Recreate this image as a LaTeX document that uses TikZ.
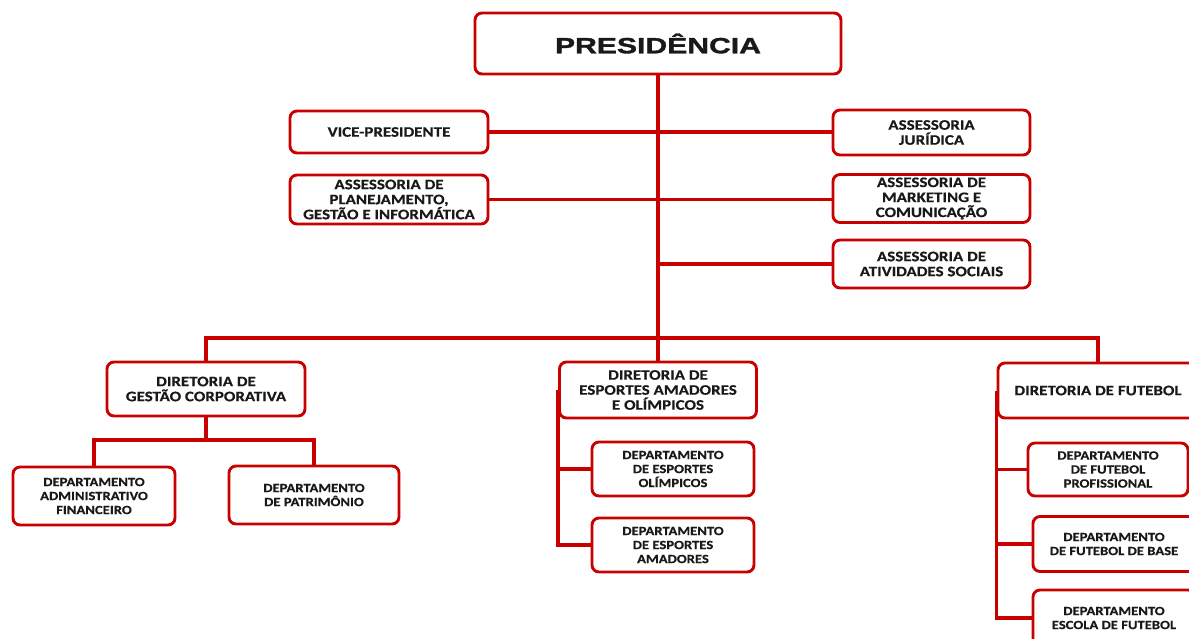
\documentclass[tikz,border=0pt]{standalone}
\usepackage{fontspec}
\setmainfont{Carlito}
\newfontfamily\boxfont[FakeStretch=1.17,FakeBold=0.5]{Carlito}
\newfontfamily\presfont[FakeStretch=1.37,FakeBold=1.5]{Liberation Sans}
\definecolor{orgred}{RGB}{200,0,0}
\definecolor{txt}{RGB}{25,25,25}
\begin{document}
\begin{tikzpicture}[x=1pt,y=-1pt,
  box/.style={draw=orgred, line width=2.9pt, rounded corners=7pt, fill=white, align=center, text=txt, inner sep=0pt, anchor=center},
  big/.style={box, font=\boxfont\bfseries\fontsize{14.5}{15}\selectfont},
  small/.style={box, font=\boxfont\bfseries\fontsize{12.5}{14}\selectfont},
  link/.style={draw=orgred, line width=3.4pt}]
\useasboundingbox[fill=white] (0,0) rectangle (1189,638);

\node[box, minimum width=366pt, minimum height=61pt, font=\presfont\bfseries\fontsize{22}{24}\selectfont] (pres) at (658,43.5) {PRESIDÊNCIA};
\node[big, minimum width=198pt, minimum height=42pt] (vp) at (389,132) {VICE-PRESIDENTE};
\node[big, minimum width=197pt, minimum height=45pt] (jur) at (931.5,132.5) {ASSESSORIA\\JURÍDICA};
\node[big, minimum width=198pt, minimum height=49pt] (plan) at (389,199.5) {ASSESSORIA DE\\PLANEJAMENTO,\\GESTÃO E INFORMÁTICA};
\node[big, minimum width=197pt, minimum height=48pt] (mkt) at (931.5,198.5) {ASSESSORIA DE\\MARKETING E\\COMUNICAÇÃO};
\node[big, minimum width=197pt, minimum height=48pt] (soc) at (931.5,264) {ASSESSORIA DE\\ATIVIDADES SOCIAIS};

\node[big, minimum width=198pt, minimum height=54pt] (dgc) at (206,389) {DIRETORIA DE\\GESTÃO CORPORATIVA};
\node[small, minimum width=162pt, minimum height=58pt] (daf) at (94,496) {DEPARTAMENTO\\ADMINISTRATIVO\\FINANCEIRO};
\node[small, minimum width=170pt, minimum height=58pt] (dpat) at (314,495) {DEPARTAMENTO\\DE PATRIMÔNIO};

\node[big, minimum width=197pt, minimum height=56pt] (dea) at (658,390) {DIRETORIA DE\\ESPORTES AMADORES\\E OLÍMPICOS};
\node[small, minimum width=162pt, minimum height=54pt] (deo) at (673,469) {DEPARTAMENTO\\DE ESPORTES\\OLÍMPICOS};
\node[small, minimum width=162pt, minimum height=54pt] (dam) at (673,545) {DEPARTAMENTO\\DE ESPORTES\\AMADORES};

\node[big, minimum width=200pt, minimum height=55pt] (dfut) at (1098,390.5) {DIRETORIA DE FUTEBOL};
\node[small, minimum width=160pt, minimum height=53pt] (dfp) at (1108,469.5) {DEPARTAMENTO\\DE FUTEBOL\\PROFISSIONAL};
\node[small, minimum width=162pt, minimum height=55pt] (dfb) at (1114,544) {DEPARTAMENTO\\DE FUTEBOL DE BASE};
\node[small, minimum width=162pt, minimum height=56pt] (def) at (1114,618) {DEPARTAMENTO\\ESCOLA DE FUTEBOL};

\coordinate (busL) at (206,338);
\coordinate (busR) at (1098,338);
\coordinate (gb) at (206,440);

\draw[link] (pres.south) -- (dea.north);
\draw[link] (vp.east) -- (vp.east -| jur.west);
\draw[link] (plan.east) -- (plan.east -| mkt.west);
\draw[link] (soc.west) -- (soc.west -| pres.south);
\draw[link] (dgc.north) -- (busL) -- (busR) -- (dfut.north);
\draw[link] (dgc.south) -- (gb);
\draw[link] (daf.north) |- (gb) -| (dpat.north);
\draw[link] (dea.west) |- (dam.west);
\draw[link] (deo.west) -- (deo.west -| dea.west);
\draw[link] (dfut.west) |- (def.west);
\draw[link] (dfp.west) -- (dfp.west -| dfut.west);
\draw[link] (dfb.west) -- (dfb.west -| dfut.west);
\end{tikzpicture}
\end{document}
